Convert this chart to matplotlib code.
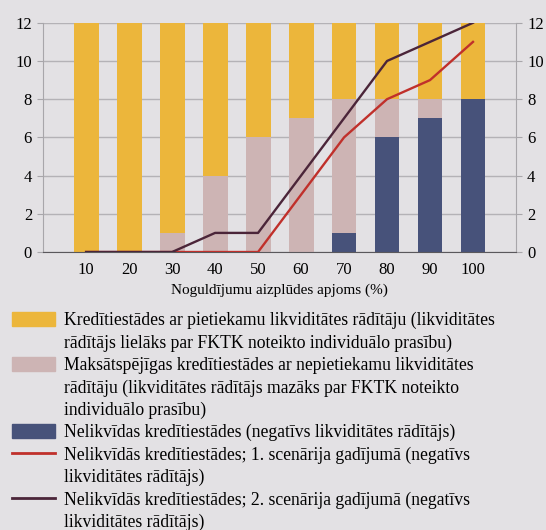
import matplotlib.pyplot as plt
import matplotlib.patches as patches
from matplotlib.lines import Line2D
import numpy as np

plt.rcParams['font.family'] = ['Liberation Serif', 'DejaVu Serif']

# Data
categories = ['10', '20', '30', '40', '50', '60', '70', '80', '90', '100']
illiquid = [0, 0, 0, 0, 0, 0, 1, 6, 7, 8]
insufficient = [0, 0, 1, 4, 6, 7, 7, 2, 1, 0]
sufficient = [12, 12, 11, 8, 6, 5, 4, 4, 4, 4]
scenario1 = [0, 0, 0, 0, 0, 3, 6, 8, 9, 11]
scenario2 = [0, 0, 0, 1, 1, 4, 7, 10, 11, 12]

bg = '#E3E1E4'
c_yellow = '#ECB63B'
c_pink = '#CDB4B4'
c_navy = '#47527A'
c_red = '#C0302B'
c_purple = '#4B2539'

fig = plt.figure(figsize=(5.46, 5.30), dpi=100, facecolor=bg)
ax = fig.add_axes([0.079, 0.5245, 0.866, 0.4325], facecolor=bg)

x = np.arange(len(categories))
w = 0.58
ax.bar(x, illiquid, width=w, color=c_navy, zorder=2)
ax.bar(x, insufficient, width=w, bottom=illiquid, color=c_pink, zorder=2)
bottom2 = np.array(illiquid) + np.array(insufficient)
ax.bar(x, sufficient, width=w, bottom=bottom2, color=c_yellow, zorder=2)
ax.plot(x, scenario1, color=c_red, lw=1.7, zorder=3)
ax.plot(x, scenario2, color=c_purple, lw=1.7, zorder=4)

ax.set_xlim(-1, 10)
ax.set_ylim(0, 12)
ax.set_yticks(range(0, 13, 2))
ax.set_xticks(x)
ax.set_xticklabels(categories)
ax.yaxis.grid(True, color='#B4B2B6', lw=1, zorder=0)
ax.tick_params(axis='x', length=0, labelsize=12, pad=7)
ax.tick_params(axis='y', length=4, color='#A8A6AA', labelsize=12, pad=4,
               right=True, labelright=True)
ax.set_xlabel('Noguldījumu aizplūdes apjoms (%)', fontsize=11, labelpad=4)
for s in ['left', 'right', 'top']:
    ax.spines[s].set_color('#A8A6AA')
ax.spines['top'].set_visible(False)
ax.spines['bottom'].set_color('#5A585C')

# Legend: one row per text line, handle only on first line of an entry
blank = patches.Patch(alpha=0)
handles = [
    patches.Patch(color=c_yellow), blank,
    patches.Patch(color=c_pink), blank, blank,
    patches.Patch(color=c_navy),
    Line2D([], [], color=c_red, lw=2), blank,
    Line2D([], [], color=c_purple, lw=2), blank,
]
labels = [
    'Kredītiestādes ar pietiekamu likviditātes rādītāju (likviditātes',
    'rādītājs lielāks par FKTK noteikto individuālo prasību)',
    'Maksātspējīgas kredītiestādes ar nepietiekamu likviditātes',
    'rādītāju (likviditātes rādītājs mazāks par FKTK noteikto',
    'individuālo prasību)',
    'Nelikvīdas kredītiestādes (negatīvs likviditātes rādītājs)',
    'Nelikvīdās kredītiestādes; 1. scenārija gadījumā (negatīvs',
    'likviditātes rādītājs)',
    'Nelikvīdās kredītiestādes; 2. scenārija gadījumā (negatīvs',
    'likviditātes rādītājs)',
]
fig.legend(handles, labels, loc='upper left', bbox_to_anchor=(0.022, 0.411),
           frameon=False, fontsize=12.7, handlelength=2.45, handleheight=0.85,
           handletextpad=0.5, labelspacing=0.29, borderaxespad=0, borderpad=0)

fig.savefig('out.png', dpi=100, facecolor=bg)
